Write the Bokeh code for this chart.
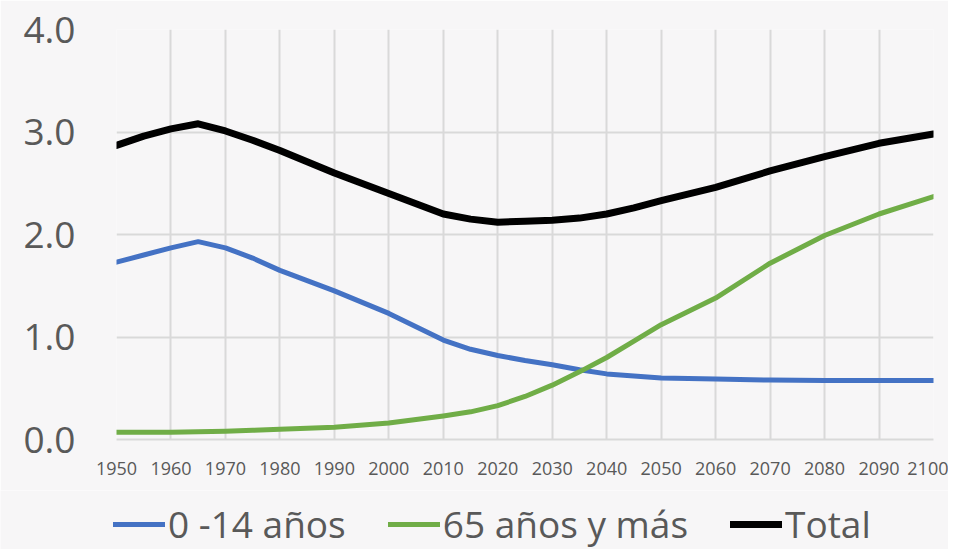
from bokeh.plotting import figure
from bokeh.layouts import column
from bokeh.models import Legend, LegendItem, Range1d, FixedTicker, NumeralTickFormatter
from bokeh.embed import file_html
from bokeh.resources import INLINE

years = [1950, 1955, 1960, 1965, 1970, 1975, 1980, 1990, 2000, 2010, 2015, 2020, 2025, 2030, 2035, 2040, 2045, 2050, 2060, 2070, 2080, 2090, 2100]
age_0_14 = [1.73, 1.80, 1.87, 1.93, 1.87, 1.77, 1.65, 1.45, 1.23, 0.97, 0.88, 0.82, 0.77, 0.73, 0.68, 0.64, 0.62, 0.60, 0.59, 0.58, 0.575, 0.575, 0.575]
age_65_plus = [0.07, 0.07, 0.07, 0.075, 0.08, 0.09, 0.10, 0.12, 0.16, 0.23, 0.27, 0.33, 0.42, 0.53, 0.66, 0.80, 0.96, 1.12, 1.38, 1.72, 1.99, 2.20, 2.37]
total = [2.87, 2.96, 3.03, 3.08, 3.01, 2.92, 2.82, 2.60, 2.40, 2.20, 2.15, 2.12, 2.13, 2.14, 2.16, 2.20, 2.26, 2.33, 2.46, 2.62, 2.76, 2.89, 2.98]
x_ticks = list(range(1950, 2101, 10))
y_ticks = [0, 1, 2, 3, 4]
labels = ["0 -14 años", "65 años y más", "Total"]
colors = ["#4472c4", "#70ad47", "#000000"]
widths = [5, 5, 7]

BG = "#f7f6f7"
GRID = "#d9d9d9"
TXT = "#595959"
FONT = "Open Sans"

p = figure(width=948, height=490, output_backend="svg", toolbar_location=None,
           x_range=Range1d(1950, 2100), y_range=Range1d(0, 4),
           min_border_left=116, min_border_right=15, min_border_top=29, min_border_bottom=51)
p.frame_align = False
p.background_fill_color = BG
p.border_fill_color = BG
p.outline_line_color = None

p.xaxis.ticker = FixedTicker(ticks=x_ticks)
p.yaxis.ticker = FixedTicker(ticks=y_ticks)
p.yaxis.formatter = NumeralTickFormatter(format="0.0")
for ax in (p.xaxis, p.yaxis):
    ax.major_tick_line_color = None
    ax.minor_tick_line_color = None
    ax.major_label_text_color = TXT
    ax.major_label_text_font = FONT
p.yaxis.axis_line_color = None
p.yaxis.major_label_text_font_size = "37px"
p.yaxis.major_label_standoff = 35
p.xaxis.axis_line_color = GRID
p.xaxis.axis_line_width = 2
p.xaxis.major_label_text_font_size = "18px"
p.xaxis.major_label_standoff = 16

p.xgrid.ticker = FixedTicker(ticks=x_ticks)
p.ygrid.ticker = FixedTicker(ticks=y_ticks[1:])
p.xgrid.grid_line_color = GRID
p.ygrid.grid_line_color = GRID
p.xgrid.grid_line_width = 2
p.ygrid.grid_line_width = 2

series = [age_0_14, age_65_plus, total]
for vals, c, w in zip(series, colors, widths):
    p.line(years, vals, line_color=c, line_width=w, line_join="round", line_cap="round")

# legend strip below the chart (proxy renderers lie outside its range)
q = figure(width=948, height=59, output_backend="svg", toolbar_location=None,
           x_range=Range1d(0, 1), y_range=Range1d(0, 1),
           min_border_left=0, min_border_right=0, min_border_top=0, min_border_bottom=0)
q.frame_align = False
q.background_fill_color = BG
q.border_fill_color = BG
q.outline_line_color = None
q.axis.visible = False
q.grid.visible = False
items = []
for lab, c, w in zip(labels, colors, widths):
    r = q.line([-5, -4], [-5, -5], line_color=c, line_width=w, line_cap="round")
    items.append(LegendItem(label=lab, renderers=[r]))
legend = Legend(items=items, orientation="horizontal", location=(113, 0),
                label_text_font=FONT, label_text_font_size="37px", label_text_color=TXT,
                glyph_width=52, glyph_height=20, label_standoff=3, spacing=42,
                background_fill_alpha=0, border_line_color=None, padding=0, margin=0)
q.add_layout(legend, "center")

layout = column(p, q, spacing=0)
open("out.html", "w").write(file_html(layout, INLINE))
